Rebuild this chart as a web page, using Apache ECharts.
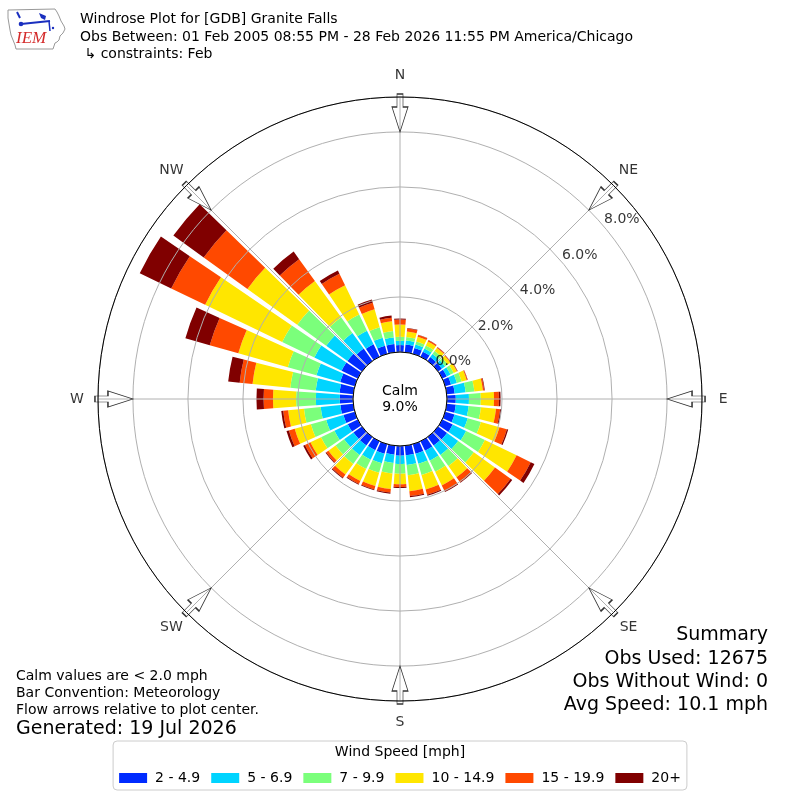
<!DOCTYPE html>
<html><head><meta charset="utf-8">
<script src="https://cdn.jsdelivr.net/npm/echarts@6/dist/echarts.min.js"></script>
<style>html,body{margin:0;padding:0;background:#fff}#c{width:800px;height:800px}</style>
</head><body><div id="c"></div>
<script>
// ---- data ----
const directions = [0,10,20,30,40,50,60,70,80,90,100,110,120,130,140,150,160,170,180,190,200,210,220,230,240,250,260,270,280,290,300,310,320,330,340,350];
const speedBins = ['2 - 4.9','5 - 6.9','7 - 9.9','10 - 14.9','15 - 19.9','20+'];
const bin2to5   = [0.25,0.28,0.22,0.20,0.17,0.17,0.18,0.22,0.29,0.32,0.33,0.35,0.42,0.40,0.38,0.38,0.36,0.35,0.35,0.33,0.36,0.36,0.38,0.38,0.40,0.43,0.47,0.48,0.50,0.55,0.65,0.65,0.55,0.50,0.30,0.30];
const bin5to7   = [0.16,0.15,0.13,0.13,0.14,0.14,0.15,0.22,0.40,0.48,0.47,0.50,0.54,0.50,0.42,0.40,0.38,0.35,0.30,0.30,0.36,0.38,0.42,0.42,0.54,0.65,0.72,0.87,0.87,0.90,1.10,0.95,0.70,0.55,0.31,0.24];
const bin7to10  = [0.14,0.13,0.11,0.12,0.13,0.12,0.13,0.18,0.32,0.43,0.45,0.50,0.76,0.70,0.50,0.45,0.42,0.38,0.36,0.38,0.36,0.38,0.40,0.38,0.54,0.58,0.61,0.72,0.93,1.08,1.30,1.30,0.70,0.65,0.39,0.24];
const bin10to15 = [0.45,0.20,0.18,0.16,0.14,0.12,0.13,0.19,0.31,0.48,0.55,0.70,1.28,0.95,0.50,0.55,0.55,0.58,0.38,0.57,0.50,0.48,0.48,0.32,0.43,0.61,0.58,0.84,1.38,1.87,3.11,2.23,1.63,1.18,0.68,0.35];
const bin15to20 = [0.18,0.11,0.07,0.05,0.03,0.02,0.02,0.03,0.05,0.18,0.15,0.28,0.57,0.70,0.22,0.24,0.20,0.18,0.10,0.13,0.13,0.12,0.14,0.10,0.22,0.22,0.18,0.34,0.47,1.08,1.37,1.96,0.98,0.47,0.25,0.13];
const bin20plus = [0.04,0.02,0.01,0.01,0.01,0.01,0.01,0.01,0.02,0.06,0.04,0.05,0.15,0.07,0.03,0.03,0.04,0.04,0.04,0.04,0.03,0.03,0.03,0.03,0.07,0.09,0.07,0.26,0.42,0.92,1.27,1.36,0.34,0.13,0.12,0.08];
const radiusTicks = [0,2,4,6,8];
const compassLabels = ['N','NE','E','SE','S','SW','W','NW'];
const compassAngles = [0,45,90,135,180,225,270,315];
const calmPct = 9.0;
const titleLines = ['Windrose Plot for [GDB] Granite Falls','Obs Between: 01 Feb 2005 08:55 PM - 28 Feb 2026 11:55 PM America/Chicago',' \u21b3 constraints: Feb'];
const noteLines = ['Calm values are < 2.0 mph','Bar Convention: Meteorology','Flow arrows relative to plot center.'];
const generatedText = 'Generated: 19 Jul 2026';
const summaryLines = ['Summary','Obs Used: 12675','Obs Without Wind: 0','Avg Speed: 10.1 mph'];

// ---- styles ----
const binColors = ['#002bff','#00d4ff','#7bff7b','#ffe600','#ff4900','#800000'];
const FONT = 'DejaVu Sans';
const rMax = 9.27;
const center = [400, 399];
const rad = [47, 302];

const binData = [bin2to5, bin5to7, bin7to10, bin10to15, bin15to20, bin20plus];

const chart = echarts.init(document.getElementById('c'), null, {renderer:'canvas'});

const barSeries = speedBins.map((name, i) => ({
  type: 'bar', name: name, coordinateSystem: 'polar', polarIndex: 0,
  stack: 'wind', data: binData[i], barCategoryGap: '16%',
  itemStyle: {color: binColors[i]}, silent: true, z: 2
}));

const arrowPath = 'path://M5,0 L11,0 L11,13 L16,13 L8,38 L0,13 L5,13 Z';

const graphics = [];
titleLines.forEach((t, i) => graphics.push({type:'text', x:80, y:[19,37,54][i], style:{text:t, font:'14px "'+FONT+'"', fill:'#000', textVerticalAlign:'middle'}}));
noteLines.forEach((t, i) => graphics.push({type:'text', x:16, y:[676,693,710][i], style:{text:t, font:'14px "'+FONT+'"', fill:'#000', textVerticalAlign:'middle'}}));
graphics.push({type:'text', x:16, y:729, style:{text:generatedText, font:'19px "'+FONT+'"', fill:'#000', textVerticalAlign:'middle'}});
summaryLines.forEach((t, i) => graphics.push({type:'text', x:768, y:[635,659,682,705][i], style:{text:t, font:'19px "'+FONT+'"', fill:'#000', textAlign:'right', textVerticalAlign:'middle'}}));
graphics.push({type:'text', x:400, y:391, z:20, style:{text:'Calm', font:'14px "'+FONT+'"', fill:'#000', textAlign:'center', textVerticalAlign:'middle'}});
graphics.push({type:'text', x:400, y:407, z:20, style:{text:calmPct.toFixed(1)+'%', font:'14px "'+FONT+'"', fill:'#000', textAlign:'center', textVerticalAlign:'middle'}});
graphics.push({type:'text', x:400, y:752, z:20, style:{text:'Wind Speed [mph]', font:'14px "'+FONT+'"', fill:'#000', textAlign:'center', textVerticalAlign:'middle'}});
// IEM logo (decorative)
graphics.push({type:'polygon', shape:{points:[[8,10],[55,9],[57,12],[59,16],[61,21],[64,26],[65,29],[63,33],[60,36],[59,40],[57,42],[55,43],[54,46],[53,49],[16,49],[15,45],[13,40],[11,35],[10,30],[9,24],[8,18]]}, style:{fill:'none', stroke:'#999', lineWidth:1}});
graphics.push({type:'polyline', shape:{points:[[17,12],[20,18]]}, style:{stroke:'#1a2fbf', lineWidth:2}});
graphics.push({type:'polyline', shape:{points:[[21,24],[50,21]]}, style:{stroke:'#1a2fbf', lineWidth:2}});
graphics.push({type:'circle', shape:{cx:21, cy:24, r:2.3}, style:{fill:'#1a2fbf'}});
graphics.push({type:'polygon', shape:{points:[[39,13],[46,16],[45,20],[41,18]]}, style:{fill:'#1a2fbf'}});
graphics.push({type:'polyline', shape:{points:[[49,21],[50,31]]}, style:{stroke:'#1a2fbf', lineWidth:1.5}});
graphics.push({type:'circle', shape:{cx:53, cy:28, r:1.2}, style:{fill:'#1a2fbf'}});
graphics.push({type:'text', x:16, y:39, style:{text:'IEM', font:'italic 17px "Liberation Serif"', fill:'#d42a2a', textVerticalAlign:'middle'}});

const option = {
  backgroundColor: '#fff',
  animation: false,
  textStyle: {fontFamily: FONT},
  polar: [
    {center: center, radius: rad},
    {center: center, radius: rad}
  ],
  angleAxis: [
    {polarIndex:0, type:'category', data:directions, startAngle:95, clockwise:true, boundaryGap:true,
     axisLine:{show:false}, axisTick:{show:false}, axisLabel:{show:false}, splitLine:{show:false}},
    {polarIndex:1, type:'value', min:0, max:360, interval:45, startAngle:90, clockwise:true, z:5,
     axisLine:{show:true, lineStyle:{color:'#000', width:1}}, axisTick:{show:false}, axisLabel:{show:false},
     splitLine:{show:true, lineStyle:{color:'#b0b0b0', width:1}}}
  ],
  radiusAxis: [
    {polarIndex:0, type:'value', min:0, max:rMax, axisLine:{show:false}, axisTick:{show:false}, axisLabel:{show:false}, splitLine:{show:false}},
    {polarIndex:1, type:'value', min:0, max:rMax, interval:2, z:5, axisLine:{show:false}, axisTick:{show:false}, axisLabel:{show:false},
     splitLine:{show:true, lineStyle:{color:'#b0b0b0', width:1}}}
  ],
  legend: {
    data: speedBins, left:'center', top:741, orient:'horizontal', icon:'rect',
    itemWidth:28, itemHeight:10, itemGap:11, selectedMode:false,
    padding:[30,6,5,6], borderColor:'#cccccc', borderWidth:1, borderRadius:4, backgroundColor:'#fff',
    textStyle:{fontSize:14, color:'#000', fontFamily:FONT, padding:[0,0,0,3]}
  },
  graphic: graphics,
  series: barSeries.concat([
    {type:'scatter', coordinateSystem:'polar', polarIndex:1, silent:true, z:10, clip:false,
     symbolSize:1, itemStyle:{color:'transparent'},
     data: radiusTicks.map(r => [r, 50]),
     label:{show:true, position:[0,0], align:'left', verticalAlign:'bottom', fontSize:14, color:'#000', fontFamily:FONT,
       formatter: p => p.value[0].toFixed(1) + '%'}},
    {type:'scatter', coordinateSystem:'polar', polarIndex:1, silent:true, z:10, clip:false,
     symbolSize:1, itemStyle:{color:'transparent'},
     data: compassAngles.map((a, i) => ({value:[10.04, a], name: compassLabels[i]})),
     label:{show:true, position:'inside', align:'center', verticalAlign:'middle', fontSize:14, color:'#000', fontFamily:FONT,
       formatter: p => p.name}},
    {type:'scatter', coordinateSystem:'polar', polarIndex:1, silent:true, z:10, clip:false,
     symbol: arrowPath, symbolSize:[16,38], symbolKeepAspect:false,
     itemStyle:{color:'rgba(0,0,0,0)', borderColor:'#000', borderWidth:1},
     data: compassAngles.map(a => ({value:[8.69, a], symbolRotate: -a}))}
  ])
};
chart.setOption(option);
</script></body></html>
